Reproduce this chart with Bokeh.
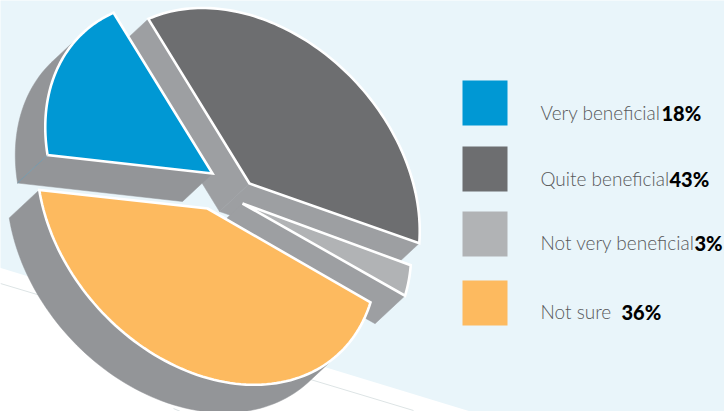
import numpy as np
from bokeh.core.properties import value
from bokeh.embed import file_html
from bokeh.plotting import figure
from bokeh.resources import INLINE

# Survey answers and their shares, clockwise around the pie
categories = ["Very beneficial", "Quite beneficial", "Not very beneficial", "Not sure"]
shares = [18, 43, 3, 36]
slice_colors = ["#0098d4", "#6d6e70", "#b1b3b5", "#fdba5f"]

# Layout of the legend
swatch_top = [80, 146, 211, 280]
label_baseline = [112, 178, 242, 311]
percent_x = [661, 669, 694, 621]

# Perspective view of the pie: rim directions of the four slice borders
rim_targets = np.array([[-167.95, -19.95], [-101.95, -162.3], [169, 62], [163.3, 92.5]])
# Where each exploded slice's tip lands on the page, and the nudge of its rim from there
slice_tips = np.array([[212, 173], [249, 183], [242, 203], [207, 208]], float)
rim_nudge = np.array([[3, 1.5], [0.75, -2.25], [-0.75, -0.3], [-0.3, 1.35]])
depth = np.array([-30.0, 28.0])
wall_radial = ["#939598", "#9d9fa2", "#9d9fa2", "#9d9fa2"]
wall_rim = "#939598"


def fit_view(angles, targets):
    rows, rhs = [], []
    for a, (u, v) in zip(angles, targets):
        x, y = np.cos(a), np.sin(a)
        rows.append([x, y, 1, 0, 0, 0, -u * x, -u * y])
        rows.append([0, 0, 0, x, y, 1, -v * x, -v * y])
        rhs += [u, v]
    return np.append(np.linalg.solve(np.array(rows), np.array(rhs)), 1).reshape(3, 3)


def project(view, angles):
    pts = view @ np.vstack([np.cos(angles), np.sin(angles), np.ones_like(angles)])
    return (pts[:2] / pts[2]).T


def faces_viewer(a, b):
    edge = b - a
    return edge[1] * depth[0] - edge[0] * depth[1] > 0


edges = 2 * np.pi * np.cumsum([0] + shares) / sum(shares)
view = fit_view(edges[:4], rim_targets)

p = figure(width=724, height=411, x_range=(0, 724), y_range=(411, 0),
           x_axis_type=None, y_axis_type=None, toolbar_location=None,
           output_backend="svg", min_border=0, outline_line_color=None,
           background_fill_color="#ffffff", border_fill_color="#ffffff")
p.grid.visible = False

# Tinted page panel with its slanted lower edge, and the faint rules below it
p.patch([-5, 730, 730, 470, -5], [-5, -5, 415, 411, 266], fill_color="#e9f5fa", line_color=None)
for xs, ys in [([0, 60], [283, 301]), ([300, 413], [376, 410]), ([173, 180], [408, 411])]:
    p.line(xs, ys, line_color="#dde4e5", line_width=1)

# Painted back to front so nearer slices cover the walls of farther ones
for i in [1, 2, 0, 3]:
    arc = project(view, np.linspace(edges[i], edges[i + 1], 90)) + slice_tips[i] + rim_nudge[i]
    tip = slice_tips[i]

    # Curved outer wall: the stretch of rim that faces the viewer, swept along the depth
    facing = [k for k in range(len(arc) - 1) if faces_viewer(arc[k], arc[k + 1])]
    if facing:
        run = arc[facing[0]:facing[-1] + 2]
        shell = np.vstack([run, (run + depth)[::-1]])
        p.patch(shell[:, 0], shell[:, 1], fill_color=wall_rim, line_color=wall_rim, line_width=0.5)

    # Flat cut walls along the two radial edges
    for a, b in [(tip, arc[0]), (arc[-1], tip)]:
        if faces_viewer(a, b):
            quad = np.array([a, b, b + depth, a + depth])
            p.patch(quad[:, 0], quad[:, 1], fill_color=wall_radial[i],
                    line_color=wall_radial[i], line_width=0.5)

    outline = np.vstack([tip, arc])
    p.patch(outline[:, 0], outline[:, 1], fill_color=slice_colors[i], line_color="#ffffff",
            line_width=2.6, line_join="miter")

# Seam where the blue slice's curved and flat walls meet
seam = project(view, edges[:1]) + slice_tips[0] + rim_nudge[0]
p.line([seam[0, 0], seam[0, 0] + depth[0]], [seam[0, 1], seam[0, 1] + depth[1]],
       line_color="#6f9ab0", line_width=0.8)

# Legend swatches and labels
swatch = 45
p.quad(left=[462] * 4, right=[462 + swatch] * 4, top=swatch_top,
       bottom=[t + swatch for t in swatch_top], fill_color=slice_colors, line_color=None)
p.text([540] * 4, label_baseline, text=categories, text_font=value("Lato Light"),
       text_font_size="19px", text_color="#58595b", text_baseline="alphabetic")
p.text(percent_x, label_baseline, text=[f"{s}%" for s in shares], text_font=value("Lato Black"),
       text_font_size="20px", text_color="#000000", text_baseline="alphabetic")

open("out.html", "w").write(file_html(p, INLINE))
